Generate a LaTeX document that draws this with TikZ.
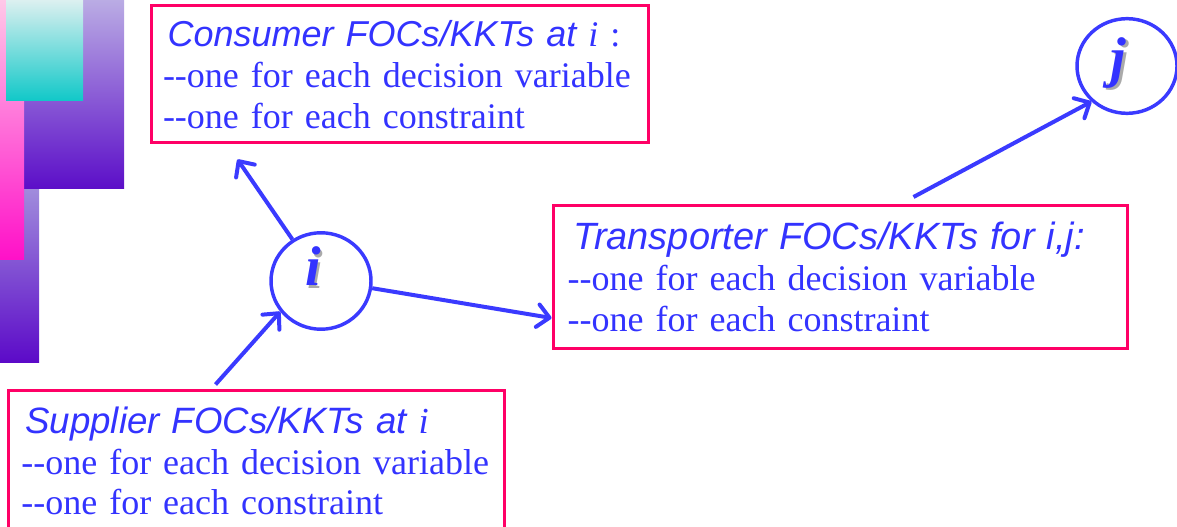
\documentclass[tikz,border=0pt]{standalone}
\usepackage{fontspec}
\setmainfont{Liberation Serif}
\newfontfamily\arialf{Liberation Sans}
\usetikzlibrary{shapes.geometric,arrows.meta,calc}
\definecolor{txtblue}{RGB}{51,51,255}
\definecolor{lineblue}{RGB}{58,58,255}
\definecolor{boxred}{RGB}{255,0,102}
\definecolor{shadowgray}{RGB}{170,170,170}
\newcommand{\shadowletter}[1]{\rlap{\kern2pt\raisebox{-1.8pt}{\color{shadowgray}#1}}#1}
\newcommand{\dd}{-\kern0pt-}
\begin{document}
\begin{tikzpicture}[x=0.75pt,y=-0.75pt,
  box/.style={draw=boxred, line width=2.25pt, rectangle, align=left,
    inner ysep=0pt, text=txtblue, font=\fontsize{27}{30.5}\selectfont},
  circ/.style={ellipse, draw=lineblue, line width=2.6pt, minimum width=75pt,
    minimum height=71pt, inner sep=0pt, text=txtblue,
    font=\fontsize{42}{42}\selectfont\bfseries\itshape},
  arr/.style={draw=lineblue, line width=3pt,
    -{Straight Barb[length=9pt,width=17pt,round]}}]
\useasboundingbox (0,0) rectangle (1177,527);
% decorative gradient bars
\shade[top color={rgb,255:red,160;green,140;blue,220}, bottom color={rgb,255:red,92;green,10;blue,200}] (0,189) rectangle (39,362);
\shade[top color={rgb,255:red,186;green,172;blue,228}, bottom color={rgb,255:red,92;green,14;blue,200}] (24,0) rectangle (124,189);
\shade[top color={rgb,255:red,255;green,200;blue,232}, bottom color={rgb,255:red,255;green,16;blue,200}] (0,0) rectangle (24,260);
\shade[top color={rgb,255:red,220;green,240;blue,240}, bottom color={rgb,255:red,16;green,200;blue,200}] (6,0) rectangle (83,101);
% boxes
\node[box, minimum width=372.75pt, minimum height=102.75pt, inner xsep=9pt, text width=354.75pt] (cons) at (399.5,74.5)
  {\mbox{\hspace{3.5pt}{\arialf\itshape Consumer FOCs/KKTs at }\textit{i} :}\\\mbox{\dd one for each decision variable}\\\mbox{\dd one for each constraint}};
\node[box, minimum width=430.5pt, minimum height=107.25pt, inner xsep=11pt, text width=408.5pt] (trans) at (840,277)
  {\mbox{\hspace{4.5pt}\fontsize{28.5}{30.5}\selectfont\arialf\itshape Transporter FOCs/KKTs for i,j:}\\\mbox{\dd one for each decision variable}\\\mbox{\dd one for each constraint}};
\node[box, minimum width=372pt, minimum height=106.5pt, inner xsep=10pt, text width=352pt] (sup) at (256,461)
  {\mbox{\hspace{3pt}\fontsize{27.5}{30.5}\selectfont{\arialf\itshape Supplier FOCs/KKTs at }\textit{i}}\\\mbox{\dd one for each decision variable}\\\mbox{\dd one for each constraint}};
% circles
\node[circ] (i) at (321,281) {\kern-12pt\raisebox{22pt}{\shadowletter{i}}};
\node[circ] (j) at (1127,66) {\kern-13pt\raisebox{13.5pt}{\shadowletter{j}}};
% connectors
\draw[arr] (i) -- ($(cons.south west)+(88,15)$);
\draw[arr] ($(sup.north west)+(209,-4)$) -- (i.217);
\draw[arr] (i.-8) -- ($(trans.south west)+(0,-32)$);
\draw[arr] ($(trans.north west)+(362,-7)$) -- (j.225);
\end{tikzpicture}
\end{document}
